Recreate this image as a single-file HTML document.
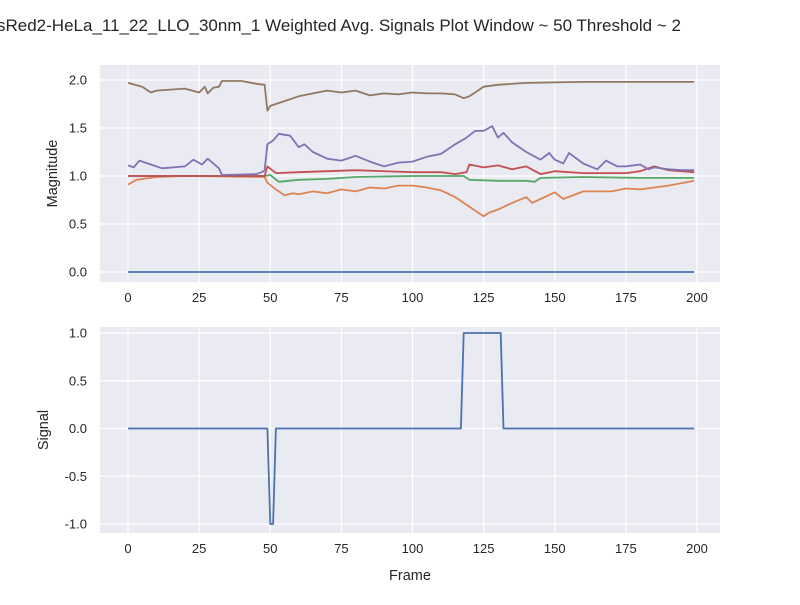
<!DOCTYPE html>
<html><head><meta charset="utf-8"><style>
body{margin:0;background:#fff;font-family:"Liberation Sans",sans-serif}
svg text{font-family:"Liberation Sans",sans-serif;fill:#262626}
</style></head><body>
<svg id="chart" width="800" height="600" xmlns="http://www.w3.org/2000/svg">
<text x="-3" y="31" font-size="17">sRed2-HeLa_11_22_LLO_30nm_1 Weighted Avg. Signals Plot Window ~ 50 Threshold ~ 2</text>
</svg>
<script>
const xTicks=[0,25,50,75,100,125,150,175,200];
const topYTicks=[0,0.5,1.0,1.5,2.0];
const botYTicks=[-1.0,-0.5,0.0,0.5,1.0];
const blueX=[0,199];const blueY=[0,0];
const orangeX=[0,3,10,20,48,49,52,55,58,60,65,70,75,80,85,90,95,100,105,110,115,120,125,127,130,135,140,142,145,150,153,160,170,175,180,190,199];
const orangeY=[0.91,0.96,0.99,1.0,0.99,0.93,0.86,0.80,0.82,0.81,0.84,0.82,0.86,0.84,0.88,0.87,0.90,0.90,0.88,0.85,0.78,0.68,0.58,0.62,0.65,0.72,0.78,0.72,0.76,0.83,0.76,0.84,0.84,0.87,0.86,0.90,0.95];
const greenX=[0,48,50,53,60,70,80,100,118,120,130,140,143,145,160,180,199];
const greenY=[1.0,1.0,1.01,0.94,0.96,0.97,0.99,1.00,1.00,0.96,0.95,0.95,0.94,0.98,0.99,0.98,0.98];
const redX=[0,48,49,52,60,80,100,110,115,119,120,125,130,135,140,145,150,160,175,180,185,190,199];
const redY=[1.0,1.0,1.10,1.03,1.04,1.06,1.04,1.04,1.02,1.04,1.12,1.09,1.11,1.07,1.10,1.02,1.05,1.03,1.03,1.05,1.10,1.06,1.04];
const purpleX=[0,2,4,8,12,20,23,26,28,32,33,45,47,48,49,51,53,57,60,62,65,70,75,80,85,90,95,100,105,110,115,119,122,125,128,130,132,135,140,145,148,150,153,155,160,165,168,172,175,180,183,185,190,195,199];
const purpleY=[1.11,1.09,1.16,1.12,1.08,1.10,1.17,1.12,1.18,1.08,1.01,1.02,1.04,1.06,1.33,1.37,1.44,1.42,1.30,1.33,1.25,1.18,1.16,1.21,1.15,1.10,1.14,1.15,1.20,1.23,1.33,1.40,1.47,1.47,1.52,1.40,1.45,1.35,1.25,1.17,1.24,1.17,1.13,1.24,1.13,1.07,1.16,1.10,1.10,1.12,1.07,1.09,1.07,1.06,1.06];
const brownX=[0,5,8,10,15,20,25,27,28,30,32,33,40,45,48,49,50,55,60,65,70,75,80,85,90,95,100,105,110,115,118,120,125,130,140,160,180,199];
const brownY=[1.97,1.93,1.87,1.89,1.90,1.91,1.87,1.93,1.86,1.92,1.93,1.99,1.99,1.96,1.95,1.68,1.73,1.78,1.83,1.86,1.89,1.87,1.89,1.84,1.86,1.85,1.87,1.86,1.86,1.85,1.81,1.83,1.93,1.95,1.97,1.98,1.98,1.98];
const sigX=[0,49,50,51,52,117,118,131,132,199];
const sigY=[0,0,-1,-1,0,0,1,1,0,0];
const NS="http://www.w3.org/2000/svg";
const svg=document.getElementById('chart');
function mk(t,a,p){const e=document.createElementNS(NS,t);for(const k in a)e.setAttribute(k,a[k]);(p||svg).appendChild(e);return e;}
function panel(name,top,bottom,yMin,yMax,pMin,pMax,yTicks,yLabel,series,xLabel){
 const L=100,R=720;
 const sx=v=>128+(v/200)*(697-128);
 const sy=v=>pMin-(v-yMin)/(yMax-yMin)*(pMin-pMax);
 const g=mk('g',{});
 
 
 const bg=mk('rect',{x:L,y:top,width:R-L,height:bottom-top,fill:'#eaeaf2'},g);
 
 
 xTicks.forEach(t=>{const x=sx(t);mk('line',{x1:x,x2:x,y1:top,y2:bottom,stroke:'#fff','stroke-width':1.2},g);
  const tx=mk('text',{x:x,y:bottom+20,'font-size':13,'text-anchor':'middle'},g);tx.textContent=t;
  
  });
 yTicks.forEach(t=>{const y=sy(t);mk('line',{x1:L,x2:R,y1:y,y2:y,stroke:'#fff','stroke-width':1.2},g);
  const tx=mk('text',{x:L-13,y:y+4.5,'font-size':13,'text-anchor':'end'},g);tx.textContent=t.toFixed(1);
  
  });
 series.forEach(s=>{const pts=s.x.map((v,i)=>sx(v).toFixed(1)+','+sy(s.y[i]).toFixed(1)).join(' ');
  const pl=mk('polyline',{points:pts,fill:'none',stroke:s.c,'stroke-width':1.8,'stroke-linejoin':'round'},g);
  
  });
 const yl=mk('text',{x:0,y:0,'font-size':14.5,'text-anchor':'middle',transform:`translate(${yLabel[1]},${(top+bottom)/2}) rotate(-90)`},g);yl.textContent=yLabel[0];
 
 
 if(xLabel){const xl=mk('text',{x:410,y:580,'font-size':14.5,'text-anchor':'middle'},g);xl.textContent=xLabel;
  
  }
}
panel('top-panel',65,282,0,2,272,80,topYTicks,['Magnitude',57],[
 {x:blueX,y:blueY,c:'#4c72b0',n:'series-blue'},
 {x:orangeX,y:orangeY,c:'#dd8452',n:'series-orange'},
 {x:greenX,y:greenY,c:'#55a868',n:'series-green'},
 {x:redX,y:redY,c:'#c44e52',n:'series-red'},
 {x:purpleX,y:purpleY,c:'#8172b3',n:'series-purple'},
 {x:brownX,y:brownY,c:'#937860',n:'series-brown'}],null);
panel('bottom-panel',327,533,-1,1,524,333,botYTicks,['Signal',48],[
 {x:sigX,y:sigY,c:'#4c72b0',n:'signal-line'}],'Frame');
</script>
</body></html>
